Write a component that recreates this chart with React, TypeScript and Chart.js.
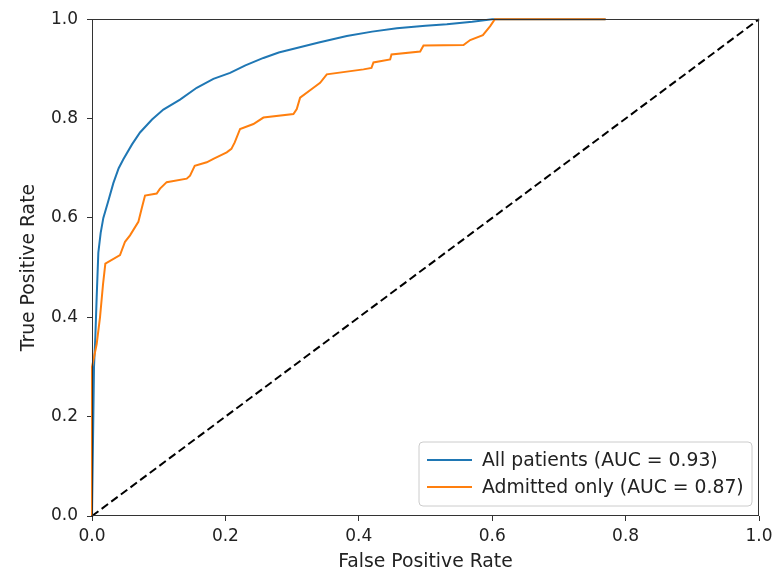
import React, { useEffect, useRef } from "react";
import { Chart, registerables } from "chart.js";

Chart.register(...registerables);

// ---- Data ----
const allFpr = [0, 0.003, 0.005, 0.007, 0.0095, 0.013, 0.017, 0.024, 0.032, 0.04, 0.047, 0.06, 0.072, 0.09, 0.107, 0.132, 0.157, 0.182, 0.207, 0.23, 0.257, 0.28, 0.307, 0.34, 0.382, 0.42, 0.457, 0.5, 0.532, 0.57, 0.6, 0.77];
const allTpr = [0, 0.3, 0.36, 0.44, 0.53, 0.57, 0.6, 0.632, 0.67, 0.7, 0.718, 0.748, 0.772, 0.798, 0.818, 0.838, 0.862, 0.88, 0.892, 0.907, 0.922, 0.933, 0.942, 0.953, 0.966, 0.975, 0.982, 0.987, 0.99, 0.995, 1.0, 1.0];

const admFpr = [0, 0, 0.007, 0.012, 0.0165, 0.02, 0.042, 0.0495, 0.057, 0.0695, 0.0745, 0.0795, 0.097, 0.102, 0.112, 0.142, 0.147, 0.154, 0.172, 0.182, 0.202, 0.209, 0.214, 0.222, 0.242, 0.257, 0.302, 0.307, 0.312, 0.332, 0.342, 0.352, 0.407, 0.419, 0.422, 0.447, 0.449, 0.492, 0.497, 0.557, 0.567, 0.586, 0.597, 0.604, 0.77];
const admTpr = [0, 0.3, 0.346, 0.4, 0.466, 0.508, 0.525, 0.552, 0.565, 0.592, 0.619, 0.645, 0.649, 0.659, 0.672, 0.679, 0.685, 0.705, 0.712, 0.719, 0.732, 0.739, 0.752, 0.779, 0.789, 0.802, 0.809, 0.819, 0.842, 0.862, 0.872, 0.889, 0.899, 0.902, 0.913, 0.919, 0.929, 0.935, 0.947, 0.948, 0.958, 0.968, 0.986, 1.0, 1.0];

const diagFpr = [0, 1];
const diagTpr = [0, 1];

const seriesLabels = ["All patients (AUC = 0.93)", "Admitted only (AUC = 0.87)"];
const seriesColors = ["#1f77b4", "#ff7f0e"];
const tickValues = [0, 0.2, 0.4, 0.6, 0.8, 1.0];
const xTitle = "False Positive Rate";
const yTitle = "True Positive Rate";

const FONT = "'DejaVu Sans', sans-serif";

const toPts = (xs: number[], ys: number[]) => xs.map((x, i) => ({ x, y: ys[i] }));

const framePlugin = {
  id: "frame",
  afterDatasetsDraw(chart: any) {
    const { ctx, chartArea: a } = chart;
    ctx.save();
    ctx.strokeStyle = "#333";
    ctx.lineWidth = 1;
    const l = Math.round(a.left) + 0.5;
    const t = Math.round(a.top) + 0.5;
    const r = Math.round(a.right) - 0.5;
    const b = Math.round(a.bottom) - 0.5;
    ctx.strokeRect(l, t, r - l, b - t);
    ctx.restore();
  },
};

const legendPlugin = {
  id: "mplLegend",
  afterDraw(chart: any) {
    const { ctx, chartArea: a } = chart;
    const right = a.right - 7;
    const bottom = a.bottom - 10;
    const left = 419;
    const top = 442;
    ctx.save();
    const rad = 4;
    ctx.beginPath();
    ctx.moveTo(left + rad, top);
    ctx.lineTo(right - rad, top);
    ctx.quadraticCurveTo(right, top, right, top + rad);
    ctx.lineTo(right, bottom - rad);
    ctx.quadraticCurveTo(right, bottom, right - rad, bottom);
    ctx.lineTo(left + rad, bottom);
    ctx.quadraticCurveTo(left, bottom, left, bottom - rad);
    ctx.lineTo(left, top + rad);
    ctx.quadraticCurveTo(left, top, left + rad, top);
    ctx.closePath();
    ctx.fillStyle = "rgba(255,255,255,0.8)";
    ctx.fill();
    ctx.strokeStyle = "#cccccc";
    ctx.lineWidth = 1;
    ctx.stroke();
    ctx.font = `18.8px ${FONT}`;
    ctx.textBaseline = "middle";
    ctx.textAlign = "left";
    const rows = [460, 487];
    seriesLabels.forEach((lab, i) => {
      const y = rows[i];
      ctx.strokeStyle = seriesColors[i];
      ctx.lineWidth = 2;
      ctx.beginPath();
      ctx.moveTo(427, y);
      ctx.lineTo(472, y);
      ctx.stroke();
      ctx.fillStyle = "#222";
      ctx.fillText(lab, 482, y + 1);
    });
    ctx.restore();
  },
};

export default function App() {
  const ref = useRef<HTMLCanvasElement | null>(null);

  useEffect(() => {
    if (!ref.current) return;
    const chart = new Chart(ref.current, {
      type: "line",
      data: {
        datasets: [
          {
            label: "diag",
            data: toPts(diagFpr, diagTpr),
            borderColor: "#000",
            borderWidth: 2,
            borderDash: [8, 4],
            pointRadius: 0,
            order: 0,
            clip: false,
          },
          {
            label: seriesLabels[1],
            data: toPts(admFpr, admTpr),
            borderColor: seriesColors[1],
            borderWidth: 2,
            pointRadius: 0,
            tension: 0,
            order: 1,
            clip: false,
          },
          {
            label: seriesLabels[0],
            data: toPts(allFpr, allTpr),
            borderColor: seriesColors[0],
            borderWidth: 2,
            pointRadius: 0,
            tension: 0,
            order: 2,
            clip: false,
          },
        ],
      },
      options: {
        responsive: false,
        animation: false,
        devicePixelRatio: 1,
        parsing: false,
        layout: { padding: { left: 0, right: 25, top: 16, bottom: 0 } },
        plugins: {
          legend: { display: false },
          tooltip: { enabled: false },
        },
        scales: {
          x: {
            type: "linear",
            min: 0,
            max: 1,
            afterBuildTicks: (s: any) => {
              s.ticks = tickValues.map((v) => ({ value: v }));
            },
            afterFit: (s: any) => {
              s.height = 57;
            },
            ticks: {
              callback: (v: any) => Number(v).toFixed(1),
              font: { family: FONT, size: 17 },
              color: "#222",
              padding: 5,
              maxRotation: 0,
            },
            grid: { drawOnChartArea: false, drawTicks: true, tickLength: 5, color: "#333", lineWidth: 1 },
            border: { display: false },
            title: {
              display: true,
              text: xTitle,
              font: { family: FONT, size: 18.8 },
              color: "#222",
              padding: { top: 0, bottom: 0 },
            },
          },
          y: {
            type: "linear",
            min: 0,
            max: 1,
            afterBuildTicks: (s: any) => {
              s.ticks = tickValues.map((v) => ({ value: v }));
            },
            afterFit: (s: any) => {
              s.width = 92;
            },
            ticks: {
              callback: (v: any) => Number(v).toFixed(1),
              font: { family: FONT, size: 17 },
              color: "#222",
              padding: 9,
            },
            grid: { drawOnChartArea: false, drawTicks: true, tickLength: 5, color: "#333", lineWidth: 1 },
            border: { display: false },
            title: {
              display: true,
              text: yTitle,
              font: { family: FONT, size: 18.8 },
              color: "#222",
              padding: { top: 18, bottom: 0 },
            },
          },
        },
      },
      plugins: [framePlugin, legendPlugin],
    } as any);
    return () => chart.destroy();
  }, []);

  return (
    <div style={{ position: "absolute", left: 0, top: 0, width: 784, height: 573, background: "#fff" }}>
      <canvas ref={ref} width={784} height={573} style={{ display: "block" }} />
    </div>
  );
}
